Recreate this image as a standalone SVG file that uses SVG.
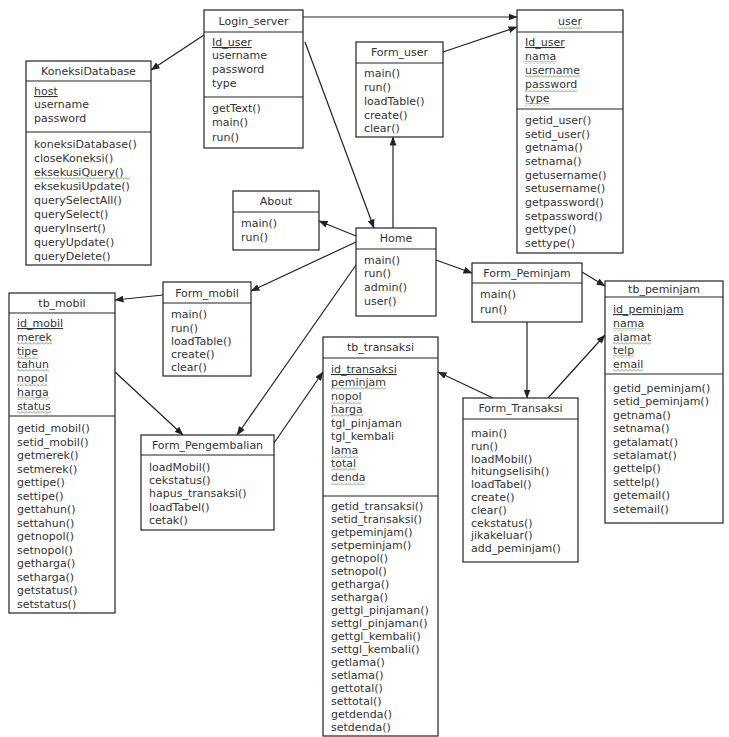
<svg xmlns="http://www.w3.org/2000/svg" width="729" height="737" viewBox="0 0 729 737">
<style>
.box{fill:#fff;stroke:#222;stroke-width:1.2}
.dv{stroke:#222;stroke-width:1.2}
text{font-family:"DejaVu Sans","Liberation Sans",sans-serif;font-size:11px;fill:#333}
.ti{text-anchor:middle}
.ul{text-decoration:underline}
.sq{fill:url(#wave)}
.con line{stroke:#222;stroke-width:1.2;marker-end:url(#ah)}
</style>
<defs>
<marker id="ah" markerUnits="userSpaceOnUse" markerWidth="9" markerHeight="7" refX="8.5" refY="3.5" orient="auto"><path d="M0,0 L9,3.5 L0,7 z" fill="#222"/></marker>
<pattern id="wave" width="4" height="3" patternUnits="userSpaceOnUse"><path d="M0,2.5 L2,0.5 L4,2.5" fill="none" stroke="#5f9a55" stroke-width="0.9"/></pattern>
</defs>
<rect width="729" height="737" fill="#fff"/>

<g class="con">
<line x1="303" y1="17" x2="517" y2="17"/>
<line x1="443" y1="52" x2="517" y2="27"/>
<line x1="204" y1="35" x2="151" y2="70"/>
<line x1="305" y1="42" x2="374" y2="228"/>
<line x1="393" y1="228" x2="393" y2="137"/>
<line x1="356" y1="236" x2="319" y2="221"/>
<line x1="356" y1="242" x2="251" y2="291"/>
<line x1="356" y1="265" x2="237" y2="435"/>
<line x1="436" y1="260" x2="472" y2="273"/>
<line x1="582" y1="272" x2="605" y2="286"/>
<line x1="527" y1="322" x2="527" y2="398"/>
<line x1="548" y1="398" x2="605" y2="335"/>
<line x1="493" y1="398" x2="438" y2="372"/>
<line x1="274" y1="443" x2="323" y2="372"/>
<line x1="163" y1="295" x2="115" y2="300"/>
<line x1="115" y1="372" x2="183" y2="435"/>
</g>

<g id="KoneksiDatabase">
<rect class="box" x="26" y="61" width="125" height="204"/>
<line class="dv" x1="26" y1="81" x2="151" y2="81"/>
<line class="dv" x1="26" y1="132" x2="151" y2="132"/>
<text class="ti" x="88.5" y="75">KoneksiDatabase</text>
<text><tspan class="ul" x="34" y="95">host</tspan><tspan x="34" y="108">username</tspan><tspan x="34" y="122">password</tspan></text>
<text><tspan x="34" y="148">koneksiDatabase()</tspan><tspan x="34" y="162">closeKoneksi()</tspan><tspan x="34" y="176">eksekusiQuery()</tspan><tspan x="34" y="190">eksekusiUpdate()</tspan><tspan x="34" y="204">querySelectAll()</tspan><tspan x="34" y="218">querySelect()</tspan><tspan x="34" y="232">queryInsert()</tspan><tspan x="34" y="246">queryUpdate()</tspan><tspan x="34" y="260">queryDelete()</tspan></text>
<rect class="sq" x="34" y="177" width="96" height="3"/>
</g>

<g id="Login_server">
<rect class="box" x="204" y="10" width="99" height="138"/>
<line class="dv" x1="204" y1="32" x2="303" y2="32"/>
<line class="dv" x1="204" y1="97" x2="303" y2="97"/>
<text class="ti" x="253.5" y="25">Login_server</text>
<text><tspan class="ul" x="212" y="46">Id_user</tspan><tspan x="212" y="59">username</tspan><tspan x="212" y="73">password</tspan><tspan x="212" y="87">type</tspan></text>
<text><tspan x="212" y="112">getText()</tspan><tspan x="212" y="126">main()</tspan><tspan x="212" y="141">run()</tspan></text>
</g>

<g id="Form_user">
<rect class="box" x="356" y="42" width="87" height="95"/>
<line class="dv" x1="356" y1="63" x2="443" y2="63"/>
<text class="ti" x="399.5" y="56">Form_user</text>
<text><tspan x="364" y="77">main()</tspan><tspan x="364" y="91">run()</tspan><tspan x="364" y="105">loadTable()</tspan><tspan x="364" y="119">create()</tspan><tspan x="364" y="132">clear()</tspan></text>
</g>

<g id="user">
<rect class="box" x="517" y="10" width="106" height="243"/>
<line class="dv" x1="517" y1="32" x2="623" y2="32"/>
<line class="dv" x1="517" y1="109" x2="623" y2="109"/>
<text class="ti" x="570" y="25">user</text>
<rect class="sq" x="558" y="26" width="24" height="3"/>
<text><tspan class="ul" x="525" y="46">Id_user</tspan><tspan x="525" y="60">nama</tspan><tspan x="525" y="74">username</tspan><tspan x="525" y="88">password</tspan><tspan x="525" y="102">type</tspan></text>
<rect class="sq" x="525" y="61" width="31" height="3"/>
<rect class="sq" x="525" y="75" width="55" height="3"/>
<rect class="sq" x="525" y="89" width="52" height="3"/>
<rect class="sq" x="525" y="103" width="25" height="3"/>
<text><tspan x="525" y="124">getid_user()</tspan><tspan x="525" y="138">setid_user()</tspan><tspan x="525" y="151">getnama()</tspan><tspan x="525" y="165">setnama()</tspan><tspan x="525" y="179">getusername()</tspan><tspan x="525" y="192">setusername()</tspan><tspan x="525" y="206">getpassword()</tspan><tspan x="525" y="220">setpassword()</tspan><tspan x="525" y="233">gettype()</tspan><tspan x="525" y="247">settype()</tspan></text>
</g>

<g id="About">
<rect class="box" x="233" y="191" width="86" height="59"/>
<line class="dv" x1="233" y1="212" x2="319" y2="212"/>
<text class="ti" x="276" y="205">About</text>
<text><tspan x="241" y="227">main()</tspan><tspan x="241" y="241">run()</tspan></text>
</g>

<g id="Home">
<rect class="box" x="356" y="228" width="80" height="88"/>
<line class="dv" x1="356" y1="249" x2="436" y2="249"/>
<text class="ti" x="396" y="242">Home</text>
<text><tspan x="364" y="264">main()</tspan><tspan x="364" y="277">run()</tspan><tspan x="364" y="291">admin()</tspan><tspan x="364" y="305">user()</tspan></text>
</g>

<g id="Form_Peminjam">
<rect class="box" x="472" y="263" width="110" height="59"/>
<line class="dv" x1="472" y1="283" x2="582" y2="283"/>
<text class="ti" x="527" y="277">Form_Peminjam</text>
<text><tspan x="480" y="298">main()</tspan><tspan x="480" y="313">run()</tspan></text>
</g>

<g id="tb_peminjam">
<rect class="box" x="605" y="281" width="118" height="242"/>
<line class="dv" x1="605" y1="297" x2="723" y2="297"/>
<line class="dv" x1="605" y1="374" x2="723" y2="374"/>
<text class="ti" x="664" y="293">tb_peminjam</text>
<text><tspan class="ul" x="613" y="313">id_peminjam</tspan><tspan x="613" y="327">nama</tspan><tspan x="613" y="341">alamat</tspan><tspan x="613" y="354">telp</tspan><tspan x="613" y="368">email</tspan></text>
<rect class="sq" x="613" y="328" width="31" height="3"/>
<rect class="sq" x="613" y="342" width="38" height="3"/>
<rect class="sq" x="613" y="355" width="21" height="3"/>
<rect class="sq" x="613" y="369" width="30" height="3"/>
<text><tspan x="613" y="392">getid_peminjam()</tspan><tspan x="613" y="405">setid_peminjam()</tspan><tspan x="613" y="419">getnama()</tspan><tspan x="613" y="432">setnama()</tspan><tspan x="613" y="446">getalamat()</tspan><tspan x="613" y="459">setalamat()</tspan><tspan x="613" y="472">gettelp()</tspan><tspan x="613" y="486">settelp()</tspan><tspan x="613" y="499">getemail()</tspan><tspan x="613" y="513">setemail()</tspan></text>
</g>

<g id="Form_Transaksi">
<rect class="box" x="463" y="398" width="115" height="164"/>
<line class="dv" x1="463" y1="419" x2="578" y2="419"/>
<text class="ti" x="520.5" y="412">Form_Transaksi</text>
<text><tspan x="471" y="437">main()</tspan><tspan x="471" y="450">run()</tspan><tspan x="471" y="463">loadMobil()</tspan><tspan x="471" y="475">hitungselisih()</tspan><tspan x="471" y="488">loadTabel()</tspan><tspan x="471" y="501">create()</tspan><tspan x="471" y="514">clear()</tspan><tspan x="471" y="527">cekstatus()</tspan><tspan x="471" y="539">jikakeluar()</tspan><tspan x="471" y="552">add_peminjam()</tspan></text>
</g>

<g id="tb_transaksi">
<rect class="box" x="323" y="337" width="115" height="399"/>
<line class="dv" x1="323" y1="358" x2="438" y2="358"/>
<line class="dv" x1="323" y1="496" x2="438" y2="496"/>
<text class="ti" x="380.5" y="351">tb_transaksi</text>
<text><tspan class="ul" x="331" y="373">id_transaksi</tspan><tspan x="331" y="386">peminjam</tspan><tspan x="331" y="400">nopol</tspan><tspan x="331" y="413">harga</tspan><tspan x="331" y="427">tgl_pinjaman</tspan><tspan x="331" y="440">tgl_kembali</tspan><tspan x="331" y="454">lama</tspan><tspan x="331" y="467">total</tspan><tspan x="331" y="481">denda</tspan></text>
<rect class="sq" x="331" y="387" width="55" height="3"/>
<rect class="sq" x="331" y="401" width="30" height="3"/>
<rect class="sq" x="331" y="414" width="32" height="3"/>
<rect class="sq" x="331" y="455" width="27" height="3"/>
<rect class="sq" x="331" y="468" width="25" height="3"/>
<rect class="sq" x="331" y="482" width="34" height="3"/>
<text><tspan x="331" y="510">getid_transaksi()</tspan><tspan x="331" y="523">setid_transaksi()</tspan><tspan x="331" y="536">getpeminjam()</tspan><tspan x="331" y="549">setpeminjam()</tspan><tspan x="331" y="562">getnopol()</tspan><tspan x="331" y="575">setnopol()</tspan><tspan x="331" y="588">getharga()</tspan><tspan x="331" y="601">setharga()</tspan><tspan x="331" y="614">gettgl_pinjaman()</tspan><tspan x="331" y="627">settgl_pinjaman()</tspan><tspan x="331" y="640">gettgl_kembali()</tspan><tspan x="331" y="653">settgl_kembali()</tspan><tspan x="331" y="666">getlama()</tspan><tspan x="331" y="679">setlama()</tspan><tspan x="331" y="692">gettotal()</tspan><tspan x="331" y="705">settotal()</tspan><tspan x="331" y="718">getdenda()</tspan><tspan x="331" y="731">setdenda()</tspan></text>
</g>

<g id="Form_Pengembalian">
<rect class="box" x="141" y="435" width="133" height="95"/>
<line class="dv" x1="141" y1="455" x2="274" y2="455"/>
<text class="ti" x="207.5" y="449">Form_Pengembalian</text>
<text><tspan x="149" y="471">loadMobil()</tspan><tspan x="149" y="484">cekstatus()</tspan><tspan x="149" y="497">hapus_transaksi()</tspan><tspan x="149" y="511">loadTabel()</tspan><tspan x="149" y="524">cetak()</tspan></text>
</g>

<g id="Form_mobil">
<rect class="box" x="163" y="282" width="88" height="94"/>
<line class="dv" x1="163" y1="303" x2="251" y2="303"/>
<text class="ti" x="207" y="297">Form_mobil</text>
<text><tspan x="171" y="318">main()</tspan><tspan x="171" y="332">run()</tspan><tspan x="171" y="345">loadTable()</tspan><tspan x="171" y="358">create()</tspan><tspan x="171" y="371">clear()</tspan></text>
</g>

<g id="tb_mobil">
<rect class="box" x="9" y="293" width="106" height="320"/>
<line class="dv" x1="9" y1="313" x2="115" y2="313"/>
<line class="dv" x1="9" y1="416" x2="115" y2="416"/>
<text class="ti" x="62" y="307">tb_mobil</text>
<text><tspan class="ul" x="17" y="327">id_mobil</tspan><tspan x="17" y="341">merek</tspan><tspan x="17" y="355">tipe</tspan><tspan x="17" y="368">tahun</tspan><tspan x="17" y="382">nopol</tspan><tspan x="17" y="396">harga</tspan><tspan x="17" y="410">status</tspan></text>
<rect class="sq" x="17" y="342" width="35" height="3"/>
<rect class="sq" x="17" y="356" width="21" height="3"/>
<rect class="sq" x="17" y="369" width="32" height="3"/>
<rect class="sq" x="17" y="383" width="30" height="3"/>
<rect class="sq" x="17" y="397" width="32" height="3"/>
<rect class="sq" x="17" y="411" width="34" height="3"/>
<text><tspan x="17" y="432">getid_mobil()</tspan><tspan x="17" y="446">setid_mobil()</tspan><tspan x="17" y="459">getmerek()</tspan><tspan x="17" y="473">setmerek()</tspan><tspan x="17" y="486">gettipe()</tspan><tspan x="17" y="500">settipe()</tspan><tspan x="17" y="513">gettahun()</tspan><tspan x="17" y="527">settahun()</tspan><tspan x="17" y="540">getnopol()</tspan><tspan x="17" y="554">setnopol()</tspan><tspan x="17" y="567">getharga()</tspan><tspan x="17" y="581">setharga()</tspan><tspan x="17" y="594">getstatus()</tspan><tspan x="17" y="608">setstatus()</tspan></text>
</g>
</svg>
